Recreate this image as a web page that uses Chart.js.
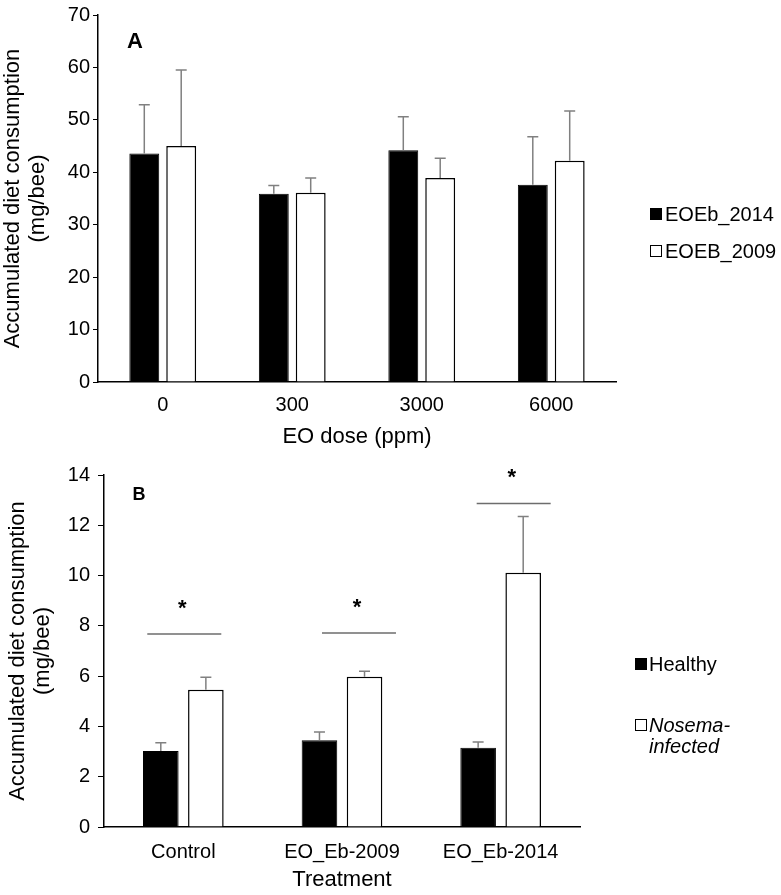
<!DOCTYPE html>
<html>
<head>
<meta charset="utf-8">
<script src="https://cdn.jsdelivr.net/npm/chart.js@4.4.0/dist/chart.umd.min.js"></script>
<style>
  body { margin: 0; background: #fff; font-family: 'Liberation Sans', Arial, sans-serif; }
  #wrap { position: relative; width: 781px; height: 895px; overflow: hidden; }
  #chartA { position: absolute; left: 0; top: 0; }
  #chartB { position: absolute; left: 0; top: 455px; }
  .leg { position: absolute; font-size: 20px; line-height: 24px; color: #000; white-space: nowrap; }
  .leg.it { font-style: italic; line-height: 21px; }
  .sw { position: absolute; width: 12px; height: 12px; box-sizing: border-box; border: 1px solid #000; }
</style>
</head>
<body>
<div id="wrap">
  <canvas id="chartA" width="781" height="455"></canvas>
  <canvas id="chartB" width="781" height="440"></canvas>

  <!-- legend A -->
  <div class="sw" style="left:650px;top:208px;background:#000"></div>
  <div class="leg" style="left:665px;top:202px">EOEb_2014</div>
  <div class="sw" style="left:650px;top:245px;background:#fff"></div>
  <div class="leg" style="left:665px;top:239px">EOEB_2009</div>

  <!-- legend B -->
  <div class="sw" style="left:635px;top:658px;background:#000"></div>
  <div class="leg" style="left:649px;top:652px">Healthy</div>
  <div class="sw" style="left:635px;top:719px;background:#fff"></div>
  <div class="leg it" style="left:649px;top:715px">Nosema-<br>infected</div>
</div>

<script>
// Panel A: consumo acumulado por dosis
const doses = ['0', '300', '3000', '6000'];
const eoeb2014 = [43.6, 35.9, 44.2, 37.6];
const eoeb2014Err = [9.3, 1.6, 6.4, 9.2];
const eoeb2009 = [45.0, 36.1, 38.9, 42.2];
const eoeb2009Err = [14.5, 2.8, 3.8, 9.5];

// Panel B: sanas vs infectadas por tratamiento
const treatments = ['Control', 'EO_Eb-2009', 'EO_Eb-2014'];
const healthy = [3.02, 3.45, 3.15];
const healthyErr = [0.33, 0.33, 0.23];
const nosema = [5.46, 5.98, 10.11];
const nosemaErr = [0.50, 0.21, 2.24];
const sigLevel = [7.68, 7.72, 12.87];

const FONT = "'Liberation Sans', Arial, sans-serif";
Chart.defaults.font.family = FONT;
Chart.defaults.color = '#000';

// Barras de error (solo hacia arriba)
const errorBars = {
    id: 'errorBars',
    afterDatasetsDraw(chart) {
        const ctx = chart.ctx;
        const yScale = chart.scales.y;
        ctx.save();
        ctx.strokeStyle = '#808080';
        ctx.lineWidth = 1.5;
        chart.data.datasets.forEach((ds, i) => {
            chart.getDatasetMeta(i).data.forEach((bar, j) => {
                const yTop = yScale.getPixelForValue(ds.data[j] + ds.errors[j]);
                ctx.beginPath();
                ctx.moveTo(bar.x, bar.y);
                ctx.lineTo(bar.x, yTop);
                ctx.moveTo(bar.x - 5.5, yTop);
                ctx.lineTo(bar.x + 5.5, yTop);
                ctx.stroke();
            });
        });
        ctx.restore();
    }
};

// Letra del panel y marcas de significancia
const panelExtras = (label, size, dx, dy, sig, shifts) => ({
    id: 'panelExtras',
    afterDraw(chart) {
        const {ctx, chartArea, scales} = chart;
        ctx.save();
        ctx.fillStyle = '#000';
        ctx.textAlign = 'center';
        ctx.textBaseline = 'alphabetic';
        ctx.font = `bold ${size}px ${FONT}`;
        ctx.fillText(label, chartArea.left + dx, chartArea.top + dy);
        if (sig) {
            const step = scales.x.getPixelForValue(1) - scales.x.getPixelForValue(0);
            ctx.strokeStyle = '#6d6d6d';
            ctx.lineWidth = 1.5;
            ctx.font = `bold 22px ${FONT}`;
            sig.forEach((v, i) => {
                const cx = scales.x.getPixelForValue(i) + shifts[i] * step;
                const y = scales.y.getPixelForValue(v);
                ctx.beginPath();
                ctx.moveTo(cx - 37, y);
                ctx.lineTo(cx + 37, y);
                ctx.stroke();
                ctx.fillText('*', cx - 2, y - 19);
            });
        }
        ctx.restore();
    }
});

const yTitle = ['Accumulated diet consumption', '(mg/bee)'];

new Chart(document.getElementById('chartA'), {
    type: 'bar',
    data: {
        labels: doses,
        datasets: [
            { label: 'EOEb_2014', data: eoeb2014, errors: eoeb2014Err, backgroundColor: '#000', borderColor: '#000', borderWidth: 1, categoryPercentage: 0.57, barPercentage: 0.81 },
            { label: 'EOEB_2009', data: eoeb2009, errors: eoeb2009Err, backgroundColor: '#fff', borderColor: '#000', borderWidth: 1.5, categoryPercentage: 0.57, barPercentage: 0.81 }
        ]
    },
    options: {
        responsive: false,
        animation: false,
        layout: { padding: { left: 0, top: 12, right: 165, bottom: 0 } },
        plugins: { legend: { display: false }, tooltip: { enabled: false } },
        scales: {
            x: {
                grid: { display: true, drawOnChartArea: false, drawTicks: false },
                border: { color: '#000', width: 1.5 },
                ticks: { font: { size: 20 }, color: '#000', padding: 11, maxRotation: 0 },
                title: { display: true, text: 'EO dose (ppm)', font: { size: 22 }, color: '#000', padding: { top: 0, bottom: 5 } },
                afterFit: s => { s.height = 73; }
            },
            y: {
                min: 0, max: 70,
                ticks: { stepSize: 10, font: { size: 20 }, color: '#000', padding: 3 },
                grid: { drawOnChartArea: false, color: '#000', tickLength: 5, lineWidth: 1 },
                border: { color: '#000', width: 1.5 },
                title: { display: true, text: yTitle, font: { size: 22, lineHeight: 1.15 }, color: '#000', padding: { top: 0, bottom: 0 } },
                afterFit: s => { s.width = 98; }
            }
        }
    },
    plugins: [errorBars, panelExtras('A', 22, 37, 32.5)]
});

new Chart(document.getElementById('chartB'), {
    type: 'bar',
    data: {
        labels: treatments,
        datasets: [
            { label: 'Healthy', data: healthy, errors: healthyErr, backgroundColor: '#000', borderColor: '#000', borderWidth: 1, categoryPercentage: 0.568, barPercentage: 0.79 },
            { label: 'Nosema-infected', data: nosema, errors: nosemaErr, backgroundColor: '#fff', borderColor: '#000', borderWidth: 1.5, categoryPercentage: 0.568, barPercentage: 0.79 }
        ]
    },
    options: {
        responsive: false,
        animation: false,
        layout: { padding: { left: 0, top: 18, right: 201, bottom: 0 } },
        plugins: { legend: { display: false }, tooltip: { enabled: false } },
        scales: {
            x: {
                grid: { display: true, drawOnChartArea: false, drawTicks: false },
                border: { color: '#000', width: 1.5 },
                ticks: { font: { size: 20 }, color: '#000', padding: 13, maxRotation: 0 },
                title: { display: true, text: 'Treatment', font: { size: 22 }, color: '#000', padding: { top: 0, bottom: 2 } },
                afterFit: s => { s.height = 68; }
            },
            y: {
                min: 0, max: 14,
                ticks: { stepSize: 2, font: { size: 20 }, color: '#000', padding: 8 },
                grid: { drawOnChartArea: false, color: '#000', tickLength: 6, lineWidth: 1 },
                border: { color: '#000', width: 1.5 },
                title: { display: true, text: yTitle, font: { size: 22, lineHeight: 1.15 }, color: '#000', padding: { top: 5, bottom: 0 } },
                afterFit: s => { s.width = 104; }
            }
        }
    },
    plugins: [errorBars, panelExtras('B', 18, 35, 25, sigLevel, [0.006, 0.107, 0.082])]
});
</script>
</body>
</html>
